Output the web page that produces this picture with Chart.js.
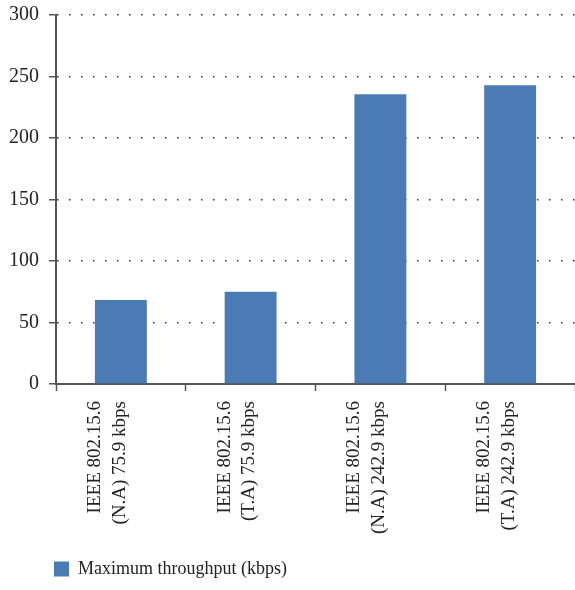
<!DOCTYPE html>
<html>
<head>
<meta charset="utf-8">
<script src="https://cdn.jsdelivr.net/npm/chart.js@4"></script>
<style>
  html, body { margin: 0; padding: 0; background: #fff; }
  #wrap { width: 575px; height: 590px; }
</style>
</head>
<body>
<div id="wrap"><canvas id="myChart"></canvas></div>
<script>
// data
var categories = [
    ['IEEE 802.15.6', '(N.A) 75.9 kbps'],
    ['IEEE 802.15.6', '(T.A) 75.9 kbps'],
    ['IEEE 802.15.6', '(N.A) 242.9 kbps'],
    ['IEEE 802.15.6', '(T.A) 242.9 kbps']
];
var seriesName = 'Maximum throughput (kbps)';
var throughput = [68.3, 75.0, 235.5, 242.9];
var yTicks = [0, 50, 100, 150, 200, 250, 300];

var serif = "'Liberation Serif', 'DejaVu Serif', serif";

// push the legend to the right so the box sits under the y axis
var legendShift = {
    id: 'legendShift',
    afterLayout: function (chart) {
        chart.legend.left += 43;
        chart.legend.right += 43;
    }
};

var ctx = document.getElementById('myChart').getContext('2d');
var myChart = new Chart(ctx, {
    type: 'bar',
    data: {
        labels: categories,
        datasets: [{
            label: seriesName,
            data: throughput,
            backgroundColor: '#4a7bb4',
            borderWidth: 0,
            barPercentage: 0.8,
            categoryPercentage: 0.5
        }]
    },
    plugins: [legendShift],
    options: {
        responsive: true,
        maintainAspectRatio: false,
        animation: false,
        layout: { padding: { top: 0, right: 0, bottom: 2, left: -1 } },
        plugins: {
            tooltip: { enabled: false },
            legend: {
                position: 'bottom',
                align: 'start',
                labels: {
                    color: '#222',
                    font: { family: serif, size: 18 },
                    boxWidth: 15,
                    boxHeight: 15,
                    padding: 12
                }
            }
        },
        scales: {
            x: {
                afterFit: function (scale) { scale.height = 164; },
                grid: {
                    offset: true,
                    drawOnChartArea: false,
                    drawTicks: true,
                    tickLength: 7,
                    tickColor: '#555',
                    tickWidth: 1.5
                },
                border: { color: '#555', width: 2 },
                ticks: {
                    color: '#222',
                    font: { family: serif, size: 19, lineHeight: 1.3 },
                    minRotation: 90,
                    maxRotation: 90,
                    padding: 10,
                    labelOffset: -26
                }
            },
            y: {
                min: 0,
                max: 300,
                afterBuildTicks: function (axis) {
                    axis.ticks = yTicks.map(function (v) { return { value: v }; });
                },
                afterFit: function (scale) { scale.paddingTop = 15; },
                grid: {
                    color: '#333',
                    lineWidth: 1.5,
                    drawTicks: true,
                    tickLength: 7,
                    tickColor: '#555',
                    tickWidth: 1.5,
                    tickBorderDash: []
                },
                border: { color: '#555', width: 2, dash: [1.5, 10.5] },
                ticks: {
                    color: '#222',
                    font: { family: serif, size: 20 },
                    padding: 10
                }
            }
        }
    }
});
</script>
</body>
</html>
